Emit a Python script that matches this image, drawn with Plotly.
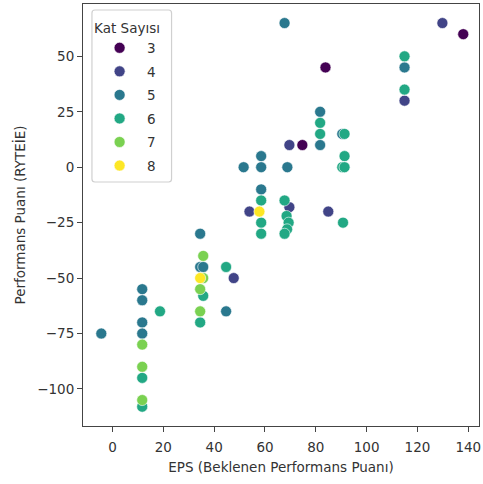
import plotly.graph_objects as go

categories = [3, 4, 5, 6, 7, 8]
colors = ["#440154", "#414487", "#2a788e", "#22a884", "#7ad151", "#fde725"]

eps_3 = [83.8, 138.0, 74.7]
perf_3 = [45, 60, 10]

eps_4 = [129.8, 114.9, 69.6, 53.9, 69.6, 84.9, 47.7]
perf_4 = [65, 30, 10, -20, -18, -20, -50]

eps_5 = [67.7, 114.9, 81.7, 81.7, 90.4, 68.8, 58.5, 58.5, 51.6, 58.5,
         34.5, 34.5, 35.7, 44.7, 11.7, 11.7, 11.7, 11.7, -4.4]
perf_5 = [65, 45, 25, 10, 15, 0, 5, 0, 0, -10,
          -30, -45, -45, -65, -55, -60, -70, -75, -75]

eps_6 = [114.9, 114.9, 81.7, 81.7, 91.3, 91.3, 90.4, 91.3, 67.7, 58.5,
         58.5, 58.5, 68.5, 69.3, 68.7, 67.7, 90.7, 44.7, 35.7, 34.5,
         18.7, 11.7, 11.7]
perf_6 = [50, 35, 20, 15, 15, 5, 0, 0, -15, -15,
          -25, -30, -22, -25, -28, -30, -25, -45, -58, -70,
          -65, -95, -108]

eps_7 = [35.7, 35.7, 34.5, 34.5, 11.7, 11.7, 11.7]
perf_7 = [-40, -50, -55, -65, -80, -90, -105]

eps_8 = [57.8, 34.5]
perf_8 = [-20, -50]

xs = [eps_3, eps_4, eps_5, eps_6, eps_7, eps_8]
ys = [perf_3, perf_4, perf_5, perf_6, perf_7, perf_8]

x_ticks = [0, 20, 40, 60, 80, 100, 120, 140]
y_ticks = [-100, -75, -50, -25, 0, 25, 50]

fig = go.Figure()
for cat, col, x, y in zip(categories, colors, xs, ys):
    fig.add_trace(go.Scatter(
        x=x, y=y, mode="markers", name=str(cat),
        legendgroup=str(cat),
        marker=dict(color=col, size=11, line=dict(color="white", width=0.6)),
    ))

axis_common = dict(
    showgrid=False, zeroline=False, showline=True, mirror=True,
    linecolor="#444444", linewidth=1, ticks="outside", ticklen=5,
    tickcolor="#444444", tickfont=dict(family="DejaVu Sans", size=13.5, color="#333333"),
    ticklabeloverflow="allow",
)

# legend frame (paper coordinates of plot area)
W, H = 398.0, 422.0
bx0, bx1 = 9.0 / W, 89.0 / W
by1, by0 = 416.0 / H, 244.0 / H
rx, ry = 3.0 / W, 3.0 / H
legend_path = (
    f"M {bx0+rx},{by1} L {bx1-rx},{by1} Q {bx1},{by1} {bx1},{by1-ry} "
    f"L {bx1},{by0+ry} Q {bx1},{by0} {bx1-rx},{by0} "
    f"L {bx0+rx},{by0} Q {bx0},{by0} {bx0},{by0+ry} "
    f"L {bx0},{by1-ry} Q {bx0},{by1} {bx0+rx},{by1} Z"
)

fig.update_layout(
    width=483, height=484,
    margin=dict(l=83, r=2, t=4, b=58),
    paper_bgcolor="white", plot_bgcolor="white",
    font=dict(family="DejaVu Sans", size=13.5, color="#333333"),
    xaxis=dict(range=[-11.6, 144.2], tickvals=x_ticks, ticklabelstandoff=4,
               title=dict(text="EPS (Beklenen Performans Puanı)", font=dict(size=13.5), standoff=8),
               **axis_common),
    yaxis=dict(range=[-116.7, 73.6], tickvals=y_ticks,
               title=dict(text="Performans Puanı (RYTEİE)", font=dict(size=13.5), standoff=8),
               **axis_common),
    shapes=[dict(type="path", xref="paper", yref="paper", path=legend_path,
                 line=dict(color="#d0d0d0", width=1.2),
                 fillcolor="rgba(255,255,255,0.8)", layer="above")],
    legend=dict(
        title=dict(text="Kat Sayısı", font=dict(size=13.5)),
        x=0.023, y=0.974, xanchor="left", yanchor="top",
        bgcolor="rgba(0,0,0,0)", borderwidth=0,
        font=dict(size=13.5), tracegroupgap=3, itemwidth=45,
    ),
)

fig.write_html("out.html")
